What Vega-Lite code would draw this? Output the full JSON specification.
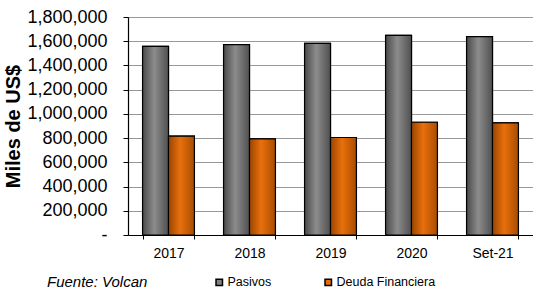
{
  "$schema": "https://vega.github.io/schema/vega-lite/v6.json",
  "width": 405,
  "height": 218,
  "autosize": {"type": "none"},
  "padding": {"left": 128, "top": 17, "right": 0, "bottom": 56},
  "background": "white",
  "config": {"view": {"stroke": null}, "font": "Liberation Sans"},
  "data": {
    "values": [
      {"periodo": "2017", "serie": "Pasivos", "valor": 1557000},
      {"periodo": "2017", "serie": "Deuda Financiera", "valor": 816000},
      {"periodo": "2018", "serie": "Pasivos", "valor": 1572000},
      {"periodo": "2018", "serie": "Deuda Financiera", "valor": 794000},
      {"periodo": "2019", "serie": "Pasivos", "valor": 1583000},
      {"periodo": "2019", "serie": "Deuda Financiera", "valor": 805000},
      {"periodo": "2020", "serie": "Pasivos", "valor": 1649000},
      {"periodo": "2020", "serie": "Deuda Financiera", "valor": 931000},
      {"periodo": "Set-21", "serie": "Pasivos", "valor": 1638000},
      {"periodo": "Set-21", "serie": "Deuda Financiera", "valor": 925000}
    ]
  },
  "encoding": {
    "x": {
      "field": "periodo",
      "type": "nominal",
      "sort": ["2017", "2018", "2019", "2020", "Set-21"],
      "scale": {"paddingInner": 0.36, "paddingOuter": 0.18},
      "axis": {
        "title": null,
        "labelAngle": 0,
        "labelFontSize": 14,
        "labelColor": "#000000",
        "labelPadding": 7,
        "domainColor": "#000000",
        "domainWidth": 1.2,
        "tickColor": "#000000",
        "tickSize": 4,
        "tickBand": "extent",
        "grid": false
      }
    },
    "xOffset": {
      "field": "serie",
      "type": "nominal",
      "sort": ["Pasivos", "Deuda Financiera"],
      "scale": {"paddingInner": 0, "paddingOuter": 0}
    },
    "y": {
      "field": "valor",
      "type": "quantitative",
      "scale": {"domain": [0, 1800000], "nice": false},
      "axis": {
        "title": "Miles de US$",
        "titleFontSize": 20,
        "titleFontWeight": "bold",
        "titleColor": "#000000",
        "titlePadding": 3,
        "values": [0, 200000, 400000, 600000, 800000, 1000000, 1200000, 1400000, 1600000, 1800000],
        "labelExpr": "datum.value == 0 ? '-' : format(datum.value, ',')",
        "labelFontSize": 18,
        "labelColor": "#000000",
        "labelPadding": 16,
        "tickSize": 5,
        "tickColor": "#000000",
        "domainColor": "#000000",
        "domainWidth": 1.2,
        "grid": true,
        "gridColor": "#333333",
        "gridDash": [1, 1],
        "gridWidth": 1
      }
    }
  },
  "layer": [
    {
      "mark": {"type": "bar", "stroke": "#000000", "strokeWidth": 1.2},
      "encoding": {
        "color": {
          "field": "serie",
          "type": "nominal",
          "sort": ["Pasivos", "Deuda Financiera"],
          "scale": {"domain": ["Pasivos", "Deuda Financiera"], "range": ["#808080", "#E46C0A"]},
          "legend": {
            "title": "Fuente: Volcan",
            "titleOrient": "left",
            "titleFontSize": 15,
            "titleFontStyle": "italic",
            "titleFontWeight": "normal",
            "titleColor": "#000000",
            "titlePadding": 65,
            "titleBaseline": "middle",
            "orient": "none",
            "legendX": -81,
            "legendY": 259,
            "direction": "horizontal",
            "symbolType": "square",
            "symbolSize": 42,
            "symbolStrokeColor": "#000000",
            "symbolStrokeWidth": 1.5,
            "labelFontSize": 12.5,
            "labelColor": "#000000",
            "labelOffset": 2,
            "columnPadding": 50
          }
        }
      }
    },
    {
      "mark": {"type": "bar", "stroke": "#000000", "strokeWidth": 1.2},
      "encoding": {
        "fill": {
          "condition": {
            "test": "datum.serie == 'Pasivos'",
            "value": {
              "gradient": "linear", "x1": 0, "y1": 0, "x2": 1, "y2": 0,
              "stops": [
                {"offset": 0, "color": "#4a4a4a"},
                {"offset": 0.45, "color": "#8c8c8c"},
                {"offset": 1, "color": "#505050"}
              ]
            }
          },
          "value": {
            "gradient": "linear", "x1": 0, "y1": 0, "x2": 1, "y2": 0,
            "stops": [
              {"offset": 0, "color": "#9a4500"},
              {"offset": 0.45, "color": "#E8700C"},
              {"offset": 1, "color": "#a84c00"}
            ]
          }
        }
      }
    }
  ]
}
